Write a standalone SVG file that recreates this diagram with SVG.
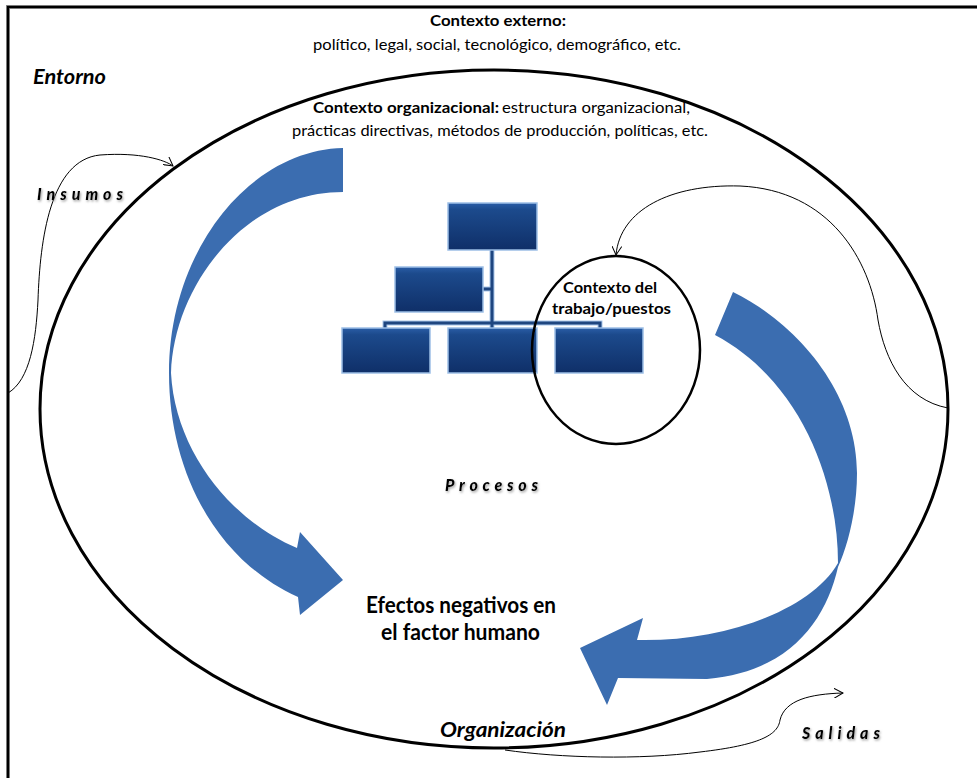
<svg xmlns="http://www.w3.org/2000/svg" width="977" height="778" viewBox="0 0 977 778">
<defs>
<style>
.t{font-family:Lato,"Open Sans","Liberation Sans",sans-serif;fill:#000}
.b{font-weight:bold}
.i{font-style:italic}
.sp{font-weight:900;font-style:italic;font-size:16px;filter:url(#sh)}
.box{fill:url(#bg);stroke:#9DBFE6;stroke-width:1.5}
.thin{fill:none;stroke:#000;stroke-width:1}
.arrow{fill:#3B6DB0}
</style>
<linearGradient id="bg" x1="0" y1="0" x2="0" y2="1">
<stop offset="0" stop-color="#2A5DA6"/>
<stop offset="0.15" stop-color="#1C4A8C"/>
<stop offset="1" stop-color="#0F2F68"/>
</linearGradient>
<filter id="sh" x="-10%" y="-30%" width="130%" height="180%">
<feDropShadow dx="1" dy="1.5" stdDeviation="0.8" flood-color="#777" flood-opacity="0.7"/>
</filter>
<filter id="soft" x="-5%" y="-5%" width="110%" height="110%">
<feGaussianBlur stdDeviation="0.7"/>
</filter>
<marker id="open" viewBox="0 0 10 10" refX="9" refY="5" markerWidth="10" markerHeight="10" markerUnits="userSpaceOnUse" orient="auto">
<path d="M0,0 L9,5 L0,10" fill="none" stroke="#000" stroke-width="1"/>
</marker>
</defs>
<rect width="977" height="778" fill="#fff"/>
<!-- frame -->
<rect x="8" y="7" width="990" height="800" fill="none" stroke="#888" stroke-width="4"/>
<rect x="8" y="7" width="990" height="800" fill="none" stroke="#000" stroke-width="2.2"/>

<g id="organizacion">
<ellipse cx="494" cy="409" rx="454" ry="339" fill="none" stroke="#000" stroke-width="3"/>
</g>

<g id="flechas-procesos">
<path class="arrow" filter="url(#soft)" d="M343,148 L343,192 C245,192 174,285 171,373 C175,450 230,520 297,548 L300,532 L343,580 L300,615 L298,597 C215,560 169,470 169,373 C169,250 250,150 343,148 Z"/>
<path class="arrow" filter="url(#soft)" d="M733,292 C800,325 857,395 857,473 C857,510 848,545 838,567 C826,620 790,672 707,679 L618,678 L607,705 L580,648 L643,618 L637,640 C720,642 810,612 838,563 C838,480 800,380 715,335 Z"/>
</g>

<g id="organigrama">
<g fill="none">
<path d="M492,250 V328 M385,328 V323 H600 V328 M483,289 H492" stroke="#A9C6EA" stroke-width="5"/>
<path d="M492,250 V328 M385,328 V323 H600 V328 M483,289 H492" stroke="#1F4680" stroke-width="3"/>
</g>
<rect class="box" x="448" y="203" width="89" height="47"/>
<rect class="box" x="395" y="267" width="88" height="45"/>
<rect class="box" x="342" y="328" width="88" height="45"/>
<rect class="box" x="448" y="328" width="89" height="45"/>
<rect class="box" x="555" y="328" width="88" height="45"/>
</g>

<g id="contexto-trabajo">
<ellipse cx="616" cy="350" rx="84" ry="94" fill="none" stroke="#000" stroke-width="2.5"/>
<text class="t b" x="563" y="293" font-size="16" textLength="94" lengthAdjust="spacingAndGlyphs">Contexto del</text>
<text class="t b" x="552" y="314" font-size="16" textLength="119" lengthAdjust="spacingAndGlyphs">trabajo/puestos</text>
</g>

<g id="connectors">
<path class="thin" marker-end="url(#open)" d="M8,393 C30,380 36,340 38,300 C40,240 50,160 100,155 C140,152 165,160 173,166"/>
<path class="thin" marker-end="url(#open)" d="M948,408 C905,400 885,360 878,320 C870,260 830,190 740,186 C670,184 620,210 616,255"/>
<path class="thin" marker-end="url(#open)" d="M505,750 C560,758 640,760 700,752 C760,745 778,735 780,720 C785,700 810,694 843,693"/>
</g>

<g id="textos">
<text class="t b" x="430" y="26" font-size="16" textLength="136" lengthAdjust="spacingAndGlyphs">Contexto externo:</text>
<text class="t" x="313" y="50" font-size="16" textLength="368" lengthAdjust="spacingAndGlyphs">político, legal, social, tecnológico, demográfico, etc.</text>
<text class="t b i" x="33" y="84" font-size="21" textLength="73" lengthAdjust="spacingAndGlyphs">Entorno</text>
<text class="t b" x="313" y="113" font-size="16" textLength="186" lengthAdjust="spacingAndGlyphs">Contexto organizacional:</text>
<text class="t" x="502" y="113" font-size="16" textLength="188" lengthAdjust="spacingAndGlyphs">estructura organizacional,</text>
<text class="t" x="292" y="136" font-size="16" textLength="416" lengthAdjust="spacingAndGlyphs">prácticas directivas, métodos de producción, políticas, etc.</text>
<text class="t sp" x="37" y="200" textLength="86" lengthAdjust="spacing">Insumos</text>
<text class="t sp" x="445" y="491" textLength="93" lengthAdjust="spacing">Procesos</text>
<text class="t sp" x="802" y="739" textLength="78" lengthAdjust="spacing">Salidas</text>
<text class="t b" x="366" y="613" font-size="22" textLength="190" lengthAdjust="spacingAndGlyphs">Efectos negativos en</text>
<text class="t b" x="381" y="640" font-size="22" textLength="159" lengthAdjust="spacingAndGlyphs">el factor humano</text>
<text class="t b i" x="440" y="737" font-size="21" textLength="126" lengthAdjust="spacingAndGlyphs">Organización</text>
</g>
</svg>
